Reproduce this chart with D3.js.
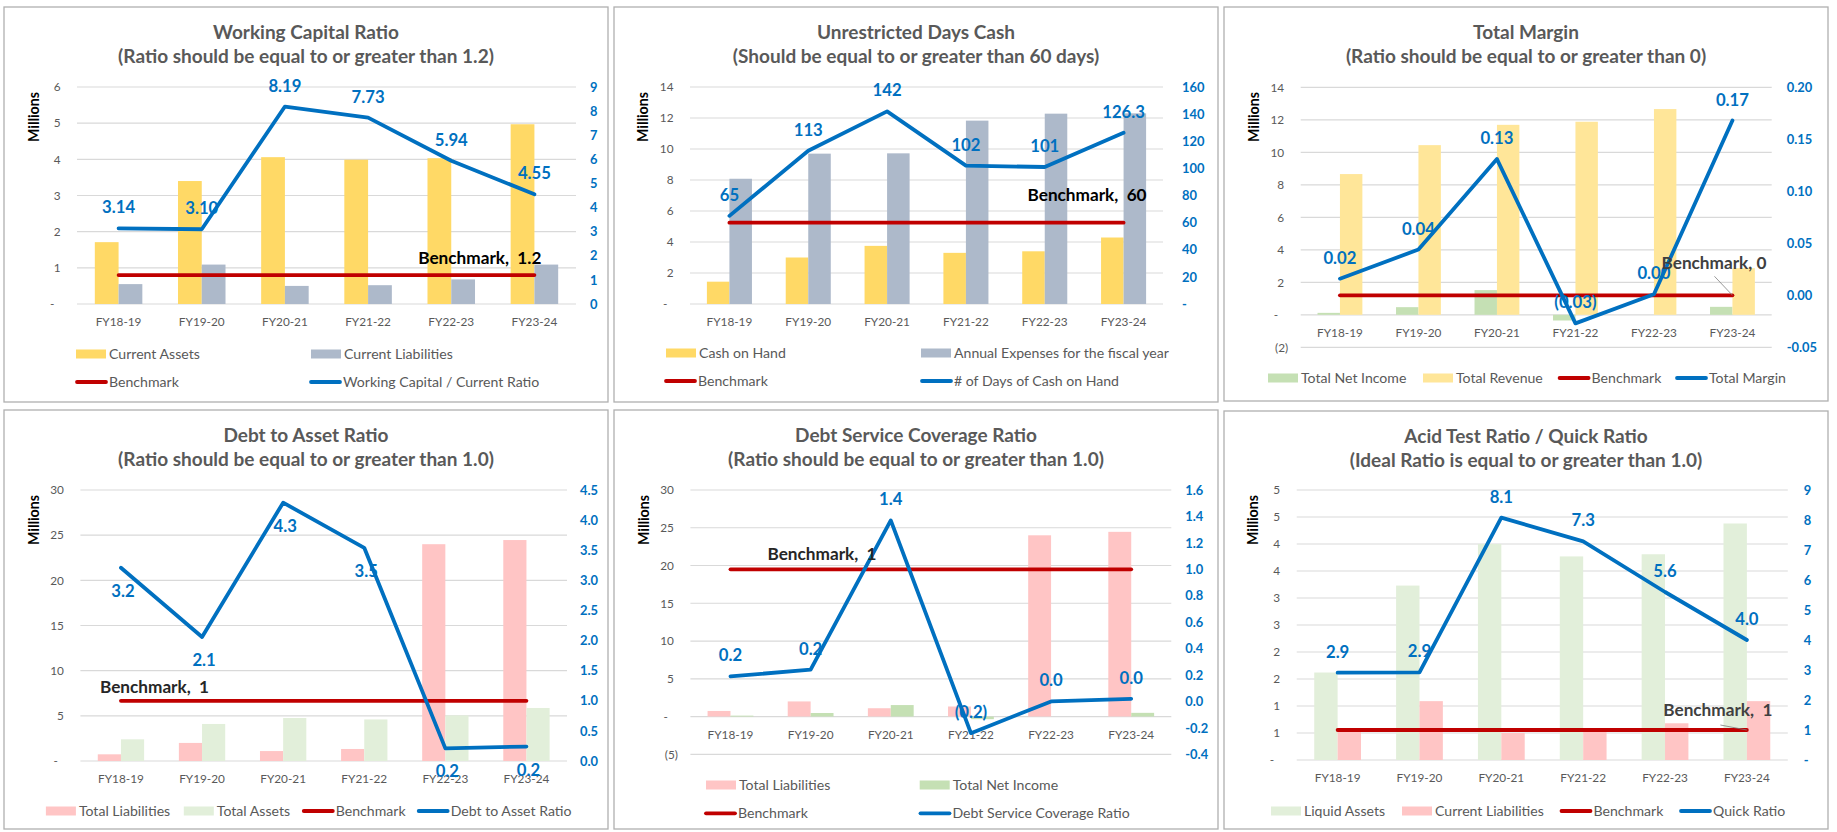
<!DOCTYPE html>
<html><head><meta charset="utf-8">
<script src="https://cdn.jsdelivr.net/npm/d3@7"></script>
<style>
body{margin:0;background:#fff;}
svg{display:block;font-family:Lato,"Open Sans",sans-serif;}
text{white-space:pre;}
</style></head><body><svg id="c" width="1837" height="832"></svg>
<script>
const categories = ["FY18-19","FY19-20","FY20-21","FY21-22","FY22-23","FY23-24"];

// 1. Working Capital Ratio (millions / ratio)
const currentAssets = [1.71, 3.40, 4.06, 3.99, 4.03, 4.97];
const currentLiabilities = [0.55, 1.09, 0.50, 0.52, 0.68, 1.09];
const workingCapitalRatio = [3.14, 3.10, 8.19, 7.73, 5.94, 4.55];
const workingCapitalBenchmark = 1.2;
const wcLeftTicks = [0,1,2,3,4,5,6];
const wcLeftLabels = ["-","1","2","3","4","5","6"];
const wcRightTicks = [0,1,2,3,4,5,6,7,8,9];
const wcRightLabels = ["0","1","2","3","4","5","6","7","8","9"];

// 2. Unrestricted Days Cash
const cashOnHand = [1.44, 3.00, 3.75, 3.30, 3.40, 4.29];
const annualExpenses = [8.08, 9.70, 9.72, 11.83, 12.28, 12.30];
const daysCashOnHand = [65, 113, 142, 102, 101, 126.3];
const daysCashBenchmark = 60;
const dcLeftTicks = [0,2,4,6,8,10,12,14];
const dcLeftLabels = ["-","2","4","6","8","10","12","14"];
const dcRightTicks = [0,20,40,60,80,100,120,140,160];
const dcRightLabels = ["-","20","40","60","80","100","120","140","160"];

// 3. Total Margin
const totalNetIncome = [0.12, 0.47, 1.52, -0.35, 0.00, 0.49];
const totalRevenue = [8.66, 10.44, 11.69, 11.88, 12.66, 2.87];
const totalMargin = [0.016, 0.044, 0.131, -0.027, 0.001, 0.168];
const totalMarginBenchmark = 0;
const tmLeftTicks = [-2,0,2,4,6,8,10,12,14];
const tmLeftLabels = ["(2)","-","2","4","6","8","10","12","14"];
const tmRightTicks = [-0.05,0,0.05,0.10,0.15,0.20];
const tmRightLabels = ["-0.05","0.00","0.05","0.10","0.15","0.20"];

// 4. Debt to Asset Ratio
const totalLiabilities = [0.74, 2.00, 1.10, 1.33, 24.00, 24.46];
const totalAssets = [2.40, 4.10, 4.76, 4.60, 5.05, 5.87];
const debtToAssetRatio = [3.21, 2.06, 4.29, 3.54, 0.21, 0.24];
const debtToAssetBenchmark = 1;
const daLeftTicks = [0,5,10,15,20,25,30];
const daLeftLabels = ["-","5","10","15","20","25","30"];
const daRightTicks = [0,0.5,1,1.5,2,2.5,3,3.5,4,4.5];
const daRightLabels = ["0.0","0.5","1.0","1.5","2.0","2.5","3.0","3.5","4.0","4.5"];

// 5. Debt Service Coverage Ratio
const debtServiceCoverageRatio = [0.19, 0.24, 1.37, -0.24, 0.00, 0.02];
const dsBenchmark = 1;
const dsLeftTicks = [-5,0,5,10,15,20,25,30];
const dsLeftLabels = ["(5)","-","5","10","15","20","25","30"];
const dsRightTicks = [-0.4,-0.2,0,0.2,0.4,0.6,0.8,1.0,1.2,1.4,1.6];
const dsRightLabels = ["-0.4","-0.2","0.0","0.2","0.4","0.6","0.8","1.0","1.2","1.4","1.6"];

// 6. Acid Test / Quick Ratio
const liquidAssets = [1.62, 3.23, 4.00, 3.77, 3.81, 4.38];
const quickRatio = [2.91, 2.92, 8.08, 7.29, 5.60, 4.00];
const quickBenchmark = 1;
const qrLeftTicks = [0,0.5,1,1.5,2,2.5,3,3.5,4,4.5,5];
const qrLeftLabels = ["-","1","1","2","2","3","3","4","4","5","5"];
const qrRightTicks = [0,1,2,3,4,5,6,7,8,9];
const qrRightLabels = ["-","1","2","3","4","5","6","7","8","9"];

// ---- styles ----
const C = {
  gold:"#FFD966", paleGold:"#FFE699", slate:"#ADB9CA", green:"#C5E0B4", paleGreen:"#E2EFDA",
  pink:"#FFC5C5", red:"#C00000", blue:"#0070C0", grid:"#D9D9D9", text:"#595959"
};
const fmtDec = d => v => v < 0 ? "(" + Math.abs(v).toFixed(d) + ")" : v.toFixed(d);
const fmtDays = v => Number.isInteger(v) ? String(v) : v.toFixed(1);

const svg = d3.select("#c");

// size fonts so that sample strings match the widths seen in the original
function fit(str, weight, target) {
  const t = svg.append("text").attr("font-size", 100).attr("font-weight", weight).text(str);
  const w = t.node().getComputedTextLength();
  t.remove();
  return Math.round(100 * target / w * 10) / 10;
}
const FS = {
  title: fit("(Ratio should be equal to or greater than 1.2)", "bold", 375),
  legend: fit("Working Capital / Current Ratio", "normal", 197),
  cat: fit("FY18-19", "normal", 45.8),
  rtick: fit("160", "bold", 22.4),
  label: fit("8.19", "bold", 33),
  bench: fit("Benchmark,  1.2", "bold", 123),
  mil: fit("Millions", "bold", 50)
};

function panel(p) {
  const g = svg.append("g");
  g.append("rect").attr("x", p.box[0]).attr("y", p.box[1])
    .attr("width", p.box[2]-p.box[0]).attr("height", p.box[3]-p.box[1])
    .attr("fill", "#fff").attr("stroke", "#B0B0B0").attr("stroke-width", 1.3);
  const cx = (p.box[0]+p.box[2])/2;
  p.title.forEach((t,i) => g.append("text").attr("x", cx).attr("y", p.box[1]+25+24*i)
    .attr("dy","0.36em").attr("text-anchor","middle").attr("font-size",FS.title)
    .attr("font-weight","bold").attr("fill",C.text).text(t));

  const yL = d3.scaleLinear().domain(p.leftDomain).range([p.plot.bottom, p.plot.top]);
  const yR = d3.scaleLinear().domain(p.rightDomain).range([p.plot.bottom, p.plot.top]);
  const x = d3.scaleBand().domain(categories).range([p.plot.left, p.plot.right]).padding(0);
  const xc = c => x(c) + x.bandwidth()/2;
  const bw = x.bandwidth()/3.5;

  // gridlines from left axis
  g.append("g").selectAll("line").data(p.leftTicks).join("line")
    .attr("x1", p.plot.left).attr("x2", p.plot.right)
    .attr("y1", d => yL(d)).attr("y2", d => yL(d))
    .attr("stroke", C.grid).attr("stroke-width", 1.2);

  // left axis labels
  const la = d3.axisLeft(yL).tickValues(p.leftTicks).tickSize(0).tickPadding(0)
    .tickFormat((d,i) => p.leftLabels[i]);
  const lg = g.append("g").attr("transform", `translate(${p.plot.left-16.5},0)`).call(la);
  lg.select(".domain").remove();
  lg.selectAll("text").attr("font-family","Lato").attr("font-size",FS.cat).attr("fill",C.text)
    .attr("dx", function(){ const t=d3.select(this).text(); return t==="-"? -6 : (t[0]==="("? 4 : 0); });

  // right axis labels
  const ra = d3.axisRight(yR).tickValues(p.rightTicks).tickSize(0).tickPadding(0)
    .tickFormat((d,i) => p.rightLabels[i]);
  const rg = g.append("g").attr("transform", `translate(${p.plot.right+p.rightPad},0)`).call(ra);
  rg.select(".domain").remove();
  rg.selectAll("text").attr("font-family","Lato").attr("font-size",FS.rtick)
    .attr("font-weight","bold").attr("fill",C.blue);

  // Millions
  g.append("text").attr("transform", `translate(${p.millions[0]},${p.millions[1]}) rotate(-90)`)
    .attr("text-anchor","middle").attr("dy","0.36em").attr("font-size",FS.mil)
    .attr("font-weight","bold").attr("fill","#000").text("Millions");

  // category labels at zero line
  g.append("g").selectAll("text").data(categories).join("text")
    .attr("x", d => xc(d)).attr("y", yL(0)+18).attr("dy","0.36em")
    .attr("text-anchor","middle").attr("font-size",FS.cat).attr("fill",C.text).text(d => d);

  // bars
  p.bars.forEach((s, si) => {
    g.append("g").selectAll("rect").data(s.values).join("rect")
      .attr("x", (d,i) => xc(categories[i]) - bw + si*bw)
      .attr("width", bw)
      .attr("y", d => Math.min(yL(d), yL(0)))
      .attr("height", d => Math.abs(yL(d)-yL(0)))
      .attr("fill", s.color);
  });

  // benchmark
  const bench = categories.map(() => p.benchmark);
  const line = d3.line().x((d,i) => xc(categories[i])).y(d => yR(d));
  g.append("path").datum(bench).attr("d", line).attr("fill","none")
    .attr("stroke", C.red).attr("stroke-width", 3.8).attr("stroke-linecap","round");
  // ratio line
  g.append("path").datum(p.ratio).attr("d", line).attr("fill","none")
    .attr("stroke", C.blue).attr("stroke-width", 3.8).attr("stroke-linecap","round")
    .attr("stroke-linejoin","round");

  // data labels
  g.append("g").selectAll("text").data(p.ratio).join("text")
    .attr("x", (d,i) => xc(categories[i]) + (p.labelDx||0))
    .attr("y", d => yR(d) + (p.labelBelow ? 23 : -21)).attr("dy","0.36em")
    .attr("text-anchor","middle").attr("font-size",FS.label).attr("font-weight","bold")
    .attr("fill", C.blue).text(d => p.fmt(d));

  // benchmark label
  const bi = p.benchLabel.at === "first" ? 0 : categories.length-1;
  const bx = xc(categories[bi]) + p.benchLabel.dx, by = yR(p.benchmark) + p.benchLabel.dy;
  if (p.benchLabel.leader) {
    g.append("line").attr("x1", bx + p.benchLabel.leader[0]).attr("y1", by + p.benchLabel.leader[1])
      .attr("x2", xc(categories[bi])).attr("y2", yR(p.benchmark))
      .attr("stroke","#7F7F7F").attr("stroke-width",0.8);
  }
  g.append("text").attr("x", bx).attr("y", by).attr("dy","0.36em")
    .attr("text-anchor", p.benchLabel.anchor).attr("font-size",FS.bench).attr("font-weight","bold")
    .attr("fill", p.benchLabel.color || "#000").text(p.benchLabel.text);

  // legend
  p.legend.forEach(it => {
    if (it.type === "rect") {
      g.append("rect").attr("x", it.x).attr("y", it.y-4.5).attr("width",30).attr("height",9).attr("fill",it.color);
      g.append("text").attr("x", it.x+33).attr("y", it.y).attr("dy","0.36em")
        .attr("font-size",FS.legend).attr("fill",C.text).text(it.label);
    } else {
      g.append("line").attr("x1", it.x+2).attr("x2", it.x+31).attr("y1", it.y).attr("y2", it.y)
        .attr("stroke", it.color).attr("stroke-width",3.8).attr("stroke-linecap","round");
      g.append("text").attr("x", it.x+34).attr("y", it.y).attr("dy","0.36em")
        .attr("font-size",FS.legend).attr("fill",C.text).text(it.label);
    }
  });
}

panel({
  box:[4,7,608,402], title:["Working Capital Ratio","(Ratio should be equal to or greater than 1.2)"],
  plot:{left:77,right:576,top:87,bottom:304}, rightPad:14, millions:[34,117],
  leftDomain:[0,6], leftTicks:wcLeftTicks, leftLabels:wcLeftLabels,
  rightDomain:[0,9], rightTicks:wcRightTicks, rightLabels:wcRightLabels,
  bars:[{values:currentAssets,color:C.gold},{values:currentLiabilities,color:C.slate}],
  ratio:workingCapitalRatio, benchmark:workingCapitalBenchmark, fmt:fmtDec(2),
  benchLabel:{text:"Benchmark,  1.2", at:"last", dx:7, dy:-17, anchor:"end"},
  legend:[
    {type:"rect",x:76,y:354,color:C.gold,label:"Current Assets"},
    {type:"rect",x:311,y:354,color:C.slate,label:"Current Liabilities"},
    {type:"line",x:75,y:382,color:C.red,label:"Benchmark"},
    {type:"line",x:309,y:382,color:C.blue,label:"Working Capital / Current Ratio"}]
});

panel({
  box:[614,7,1218,402], title:["Unrestricted Days Cash","(Should be equal to or greater than 60 days)"],
  plot:{left:690,right:1163,top:87,bottom:304}, rightPad:19, millions:[643,117],
  leftDomain:[0,14], leftTicks:dcLeftTicks, leftLabels:dcLeftLabels,
  rightDomain:[0,160], rightTicks:dcRightTicks, rightLabels:dcRightLabels,
  bars:[{values:cashOnHand,color:C.gold},{values:annualExpenses,color:C.slate}],
  ratio:daysCashOnHand, benchmark:daysCashBenchmark, fmt:fmtDays,
  benchLabel:{text:"Benchmark,  60", at:"last", dx:23, dy:-28, anchor:"end"},
  legend:[
    {type:"rect",x:666,y:353,color:C.gold,label:"Cash on Hand"},
    {type:"rect",x:921,y:353,color:C.slate,label:"Annual Expenses for the fiscal year"},
    {type:"line",x:664,y:381,color:C.red,label:"Benchmark"},
    {type:"line",x:920,y:381,color:C.blue,label:"# of Days of Cash on Hand"}]
});

panel({
  box:[1224,7,1828,401], title:["Total Margin","(Ratio should be equal to or greater than 0)"],
  plot:{left:1300.7,right:1771.7,top:87.3,bottom:347.3}, rightPad:15, millions:[1254,117],
  leftDomain:[-2,14], leftTicks:tmLeftTicks, leftLabels:tmLeftLabels,
  rightDomain:[-0.05,0.20], rightTicks:tmRightTicks, rightLabels:tmRightLabels,
  bars:[{values:totalNetIncome,color:C.green},{values:totalRevenue,color:C.paleGold}],
  ratio:totalMargin, benchmark:totalMarginBenchmark, fmt:fmtDec(2),
  benchLabel:{text:"Benchmark, 0", at:"last", dx:34, dy:-32, anchor:"end", color:"#404040", leader:[-52,13]},
  legend:[
    {type:"rect",x:1268,y:378,color:C.green,label:"Total Net Income"},
    {type:"rect",x:1423,y:378,color:C.paleGold,label:"Total Revenue"},
    {type:"line",x:1557.6,y:378,color:C.red,label:"Benchmark"},
    {type:"line",x:1675,y:378,color:C.blue,label:"Total Margin"}]
});

panel({
  box:[4,410,608,829], title:["Debt to Asset Ratio","(Ratio should be equal to or greater than 1.0)"],
  plot:{left:80.4,right:567,top:490,bottom:761}, rightPad:13, millions:[34,520],
  leftDomain:[0,30], leftTicks:daLeftTicks, leftLabels:daLeftLabels,
  rightDomain:[0,4.5], rightTicks:daRightTicks, rightLabels:daRightLabels,
  bars:[{values:totalLiabilities,color:C.pink},{values:totalAssets,color:C.paleGreen}],
  ratio:debtToAssetRatio, benchmark:debtToAssetBenchmark, fmt:fmtDec(1), labelBelow:true, labelDx:2,
  benchLabel:{text:"Benchmark,  1", at:"first", dx:-21, dy:-14, anchor:"start", color:"#262626"},
  legend:[
    {type:"rect",x:45.9,y:811,color:C.pink,label:"Total Liabilities"},
    {type:"rect",x:183.8,y:811,color:C.paleGreen,label:"Total Assets"},
    {type:"line",x:301.8,y:811,color:C.red,label:"Benchmark"},
    {type:"line",x:416.7,y:811,color:C.blue,label:"Debt to Asset Ratio"}]
});

panel({
  box:[614,410,1218,829], title:["Debt Service Coverage Ratio","(Ratio should be equal to or greater than 1.0)"],
  plot:{left:690.4,right:1171.3,top:490,bottom:754.3}, rightPad:14, millions:[644,520],
  leftDomain:[-5,30], leftTicks:dsLeftTicks, leftLabels:dsLeftLabels,
  rightDomain:[-0.4,1.6], rightTicks:dsRightTicks, rightLabels:dsRightLabels,
  bars:[{values:totalLiabilities,color:C.pink},{values:totalNetIncome,color:C.green}],
  ratio:debtServiceCoverageRatio, benchmark:dsBenchmark, fmt:fmtDec(1),
  benchLabel:{text:"Benchmark,  1", at:"first", dx:37, dy:-15, anchor:"start", color:"#262626"},
  legend:[
    {type:"rect",x:706,y:785,color:C.pink,label:"Total Liabilities"},
    {type:"rect",x:919.7,y:785,color:C.green,label:"Total Net Income"},
    {type:"line",x:704,y:813.3,color:C.red,label:"Benchmark"},
    {type:"line",x:918.5,y:813.3,color:C.blue,label:"Debt Service Coverage Ratio"}]
});

panel({
  box:[1224,411,1828,829], title:["Acid Test Ratio / Quick Ratio","(Ideal Ratio is equal to or greater than 1.0)"],
  plot:{left:1296.7,right:1787.8,top:490,bottom:760}, rightPad:16, millions:[1253,520],
  leftDomain:[0,5], leftTicks:qrLeftTicks, leftLabels:qrLeftLabels,
  rightDomain:[0,9], rightTicks:qrRightTicks, rightLabels:qrRightLabels,
  bars:[{values:liquidAssets,color:C.paleGreen},{values:currentLiabilities,color:C.pink}],
  ratio:quickRatio, benchmark:quickBenchmark, fmt:fmtDec(1),
  benchLabel:{text:"Benchmark,  1", at:"last", dx:25.5, dy:-20, anchor:"end", color:"#404040", leader:[-52,15]},
  legend:[
    {type:"rect",x:1271,y:811,color:C.paleGreen,label:"Liquid Assets"},
    {type:"rect",x:1402,y:811,color:C.pink,label:"Current Liabilities"},
    {type:"line",x:1559.5,y:811,color:C.red,label:"Benchmark"},
    {type:"line",x:1679,y:811,color:C.blue,label:"Quick Ratio"}]
});
</script></body></html>
